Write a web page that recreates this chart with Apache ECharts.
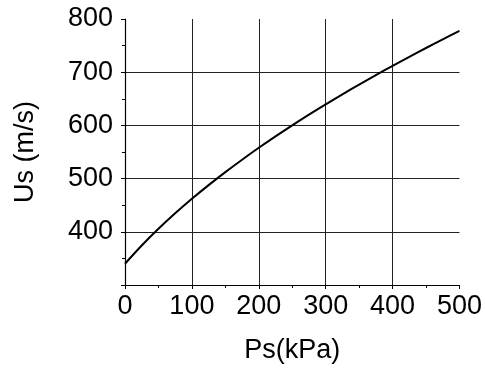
<!DOCTYPE html>
<html>
<head>
<meta charset="utf-8">
<script src="https://cdn.jsdelivr.net/npm/echarts@6/dist/echarts.min.js"></script>
<style>html,body{margin:0;padding:0;background:#fff;}#c{width:485px;height:371px;}</style>
</head>
<body>
<div id="c"></div>
<script>
var psValues = [0, 25, 50, 75, 100, 125, 150, 175, 200, 225, 250, 275, 300, 325, 350, 375, 400, 425, 450, 475, 500];
var usValues = [340, 374.2, 405.6, 434.7, 462, 487.7, 512.2, 535.5, 557.9, 579.4, 600.1, 620.2, 639.5, 658.4, 676.8, 694.6, 712, 728.9, 745.5, 761.7, 777.6];
var xName = 'Ps(kPa)';
var yName = 'Us (m/s)';

var font = 'Liberation Sans, Arial, sans-serif';
var chart = echarts.init(document.getElementById('c'));
chart.setOption({
  animation: false,
  grid: {left: 125, right: 25, top: 19, bottom: 86},
  xAxis: {
    type: 'value', min: 0, max: 500, interval: 100,
    name: xName, nameLocation: 'middle', nameGap: 52,
    nameTextStyle: {fontFamily: font, fontSize: 27, color: '#000'},
    axisLine: {show: true, lineStyle: {color: '#000', width: 1.2}},
    axisTick: {show: true, length: 4, lineStyle: {color: '#000'}},
    minorTick: {show: true, splitNumber: 2, length: 3, lineStyle: {color: '#000'}},
    axisLabel: {fontFamily: font, fontSize: 27, color: '#000', margin: 8},
    splitLine: {show: true, showMinLine: false, showMaxLine: false, lineStyle: {color: '#222', width: 1}}
  },
  yAxis: {
    type: 'value', min: 300, max: 800, interval: 100,
    name: yName, nameLocation: 'middle', nameGap: 86,
    nameTextStyle: {fontFamily: font, fontSize: 27, color: '#000'},
    axisLine: {show: true, lineStyle: {color: '#000', width: 1.2}},
    axisTick: {show: true, length: 4, lineStyle: {color: '#000'}},
    minorTick: {show: true, splitNumber: 2, length: 3, lineStyle: {color: '#000'}},
    axisLabel: {fontFamily: font, fontSize: 27, color: '#000', margin: 12,
      formatter: function (v) { return v === 300 ? '' : String(v); }},
    splitLine: {show: true, showMinLine: false, showMaxLine: false, lineStyle: {color: '#222', width: 1}}
  },
  series: [{
    type: 'line',
    data: psValues.map(function (p, i) { return [p, usValues[i]]; }),
    smooth: 0.3,
    showSymbol: false,
    lineStyle: {color: '#000', width: 2}
  }]
});
</script>
</body>
</html>
